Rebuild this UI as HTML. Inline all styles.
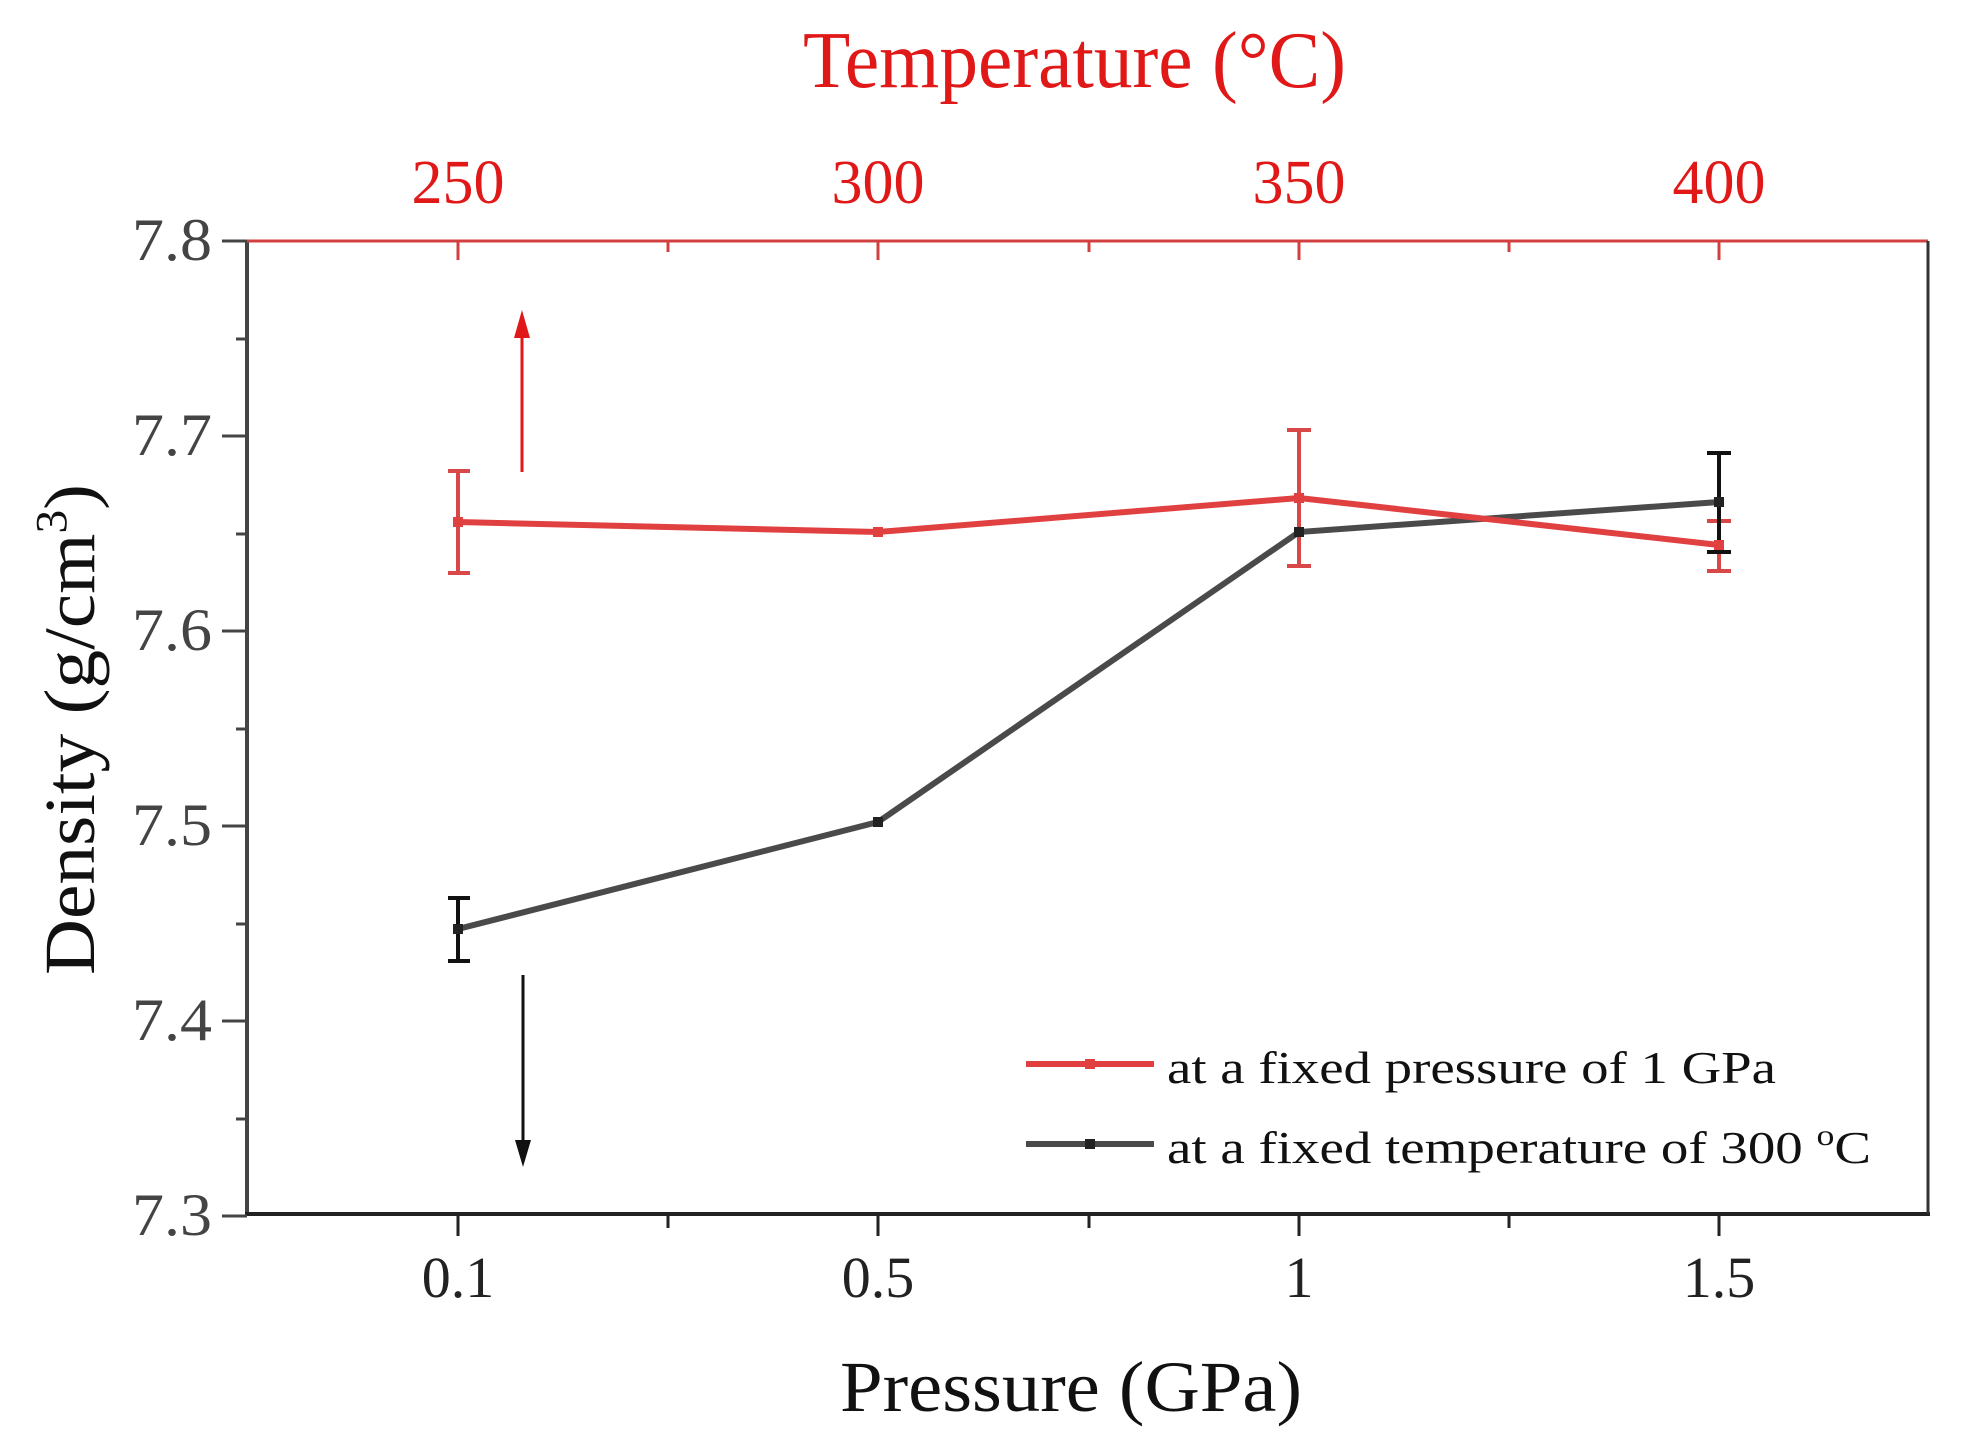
<!DOCTYPE html>
<html><head><meta charset="utf-8"><style>html,body{margin:0;padding:0;background:#fff}svg{display:block}</style></head>
<body>
<svg width="1963" height="1444" viewBox="0 0 1963 1444" xmlns="http://www.w3.org/2000/svg" font-family="Liberation Serif, serif">
<rect width="1963" height="1444" fill="#fff"/>
<line x1="247" y1="241" x2="247" y2="1216" stroke="#444" stroke-width="4"/>
<line x1="245" y1="1214" x2="1930" y2="1214" stroke="#222" stroke-width="4"/>
<line x1="247" y1="241" x2="1928" y2="241" stroke="#d04040" stroke-width="3"/>
<line x1="1928" y1="241" x2="1928" y2="1214" stroke="#333" stroke-width="3"/>
<g stroke="#444" stroke-width="3">
<line x1="222" y1="241" x2="247" y2="241"/><line x1="236" y1="339" x2="247" y2="339"/>
<line x1="222" y1="436" x2="247" y2="436"/><line x1="236" y1="534" x2="247" y2="534"/>
<line x1="222" y1="631" x2="247" y2="631"/><line x1="236" y1="729" x2="247" y2="729"/>
<line x1="222" y1="826" x2="247" y2="826"/><line x1="236" y1="924" x2="247" y2="924"/>
<line x1="222" y1="1021" x2="247" y2="1021"/><line x1="236" y1="1119" x2="247" y2="1119"/>
<line x1="222" y1="1216" x2="247" y2="1216"/>
</g>
<g font-size="60" fill="#444" text-anchor="end">
<text x="212" y="260" textLength="80" lengthAdjust="spacingAndGlyphs">7.8</text><text x="212" y="455" textLength="80" lengthAdjust="spacingAndGlyphs">7.7</text><text x="212" y="650" textLength="80" lengthAdjust="spacingAndGlyphs">7.6</text>
<text x="212" y="845" textLength="80" lengthAdjust="spacingAndGlyphs">7.5</text><text x="212" y="1040" textLength="80" lengthAdjust="spacingAndGlyphs">7.4</text><text x="212" y="1235" textLength="80" lengthAdjust="spacingAndGlyphs">7.3</text>
</g>
<g stroke="#222" stroke-width="3">
<line x1="458" y1="1214" x2="458" y2="1236"/><line x1="878" y1="1214" x2="878" y2="1236"/>
<line x1="1299" y1="1214" x2="1299" y2="1236"/><line x1="1719" y1="1214" x2="1719" y2="1236"/>
<line x1="668" y1="1214" x2="668" y2="1228"/><line x1="1089" y1="1214" x2="1089" y2="1228"/>
<line x1="1509" y1="1214" x2="1509" y2="1228"/>
</g>
<g font-size="58" fill="#222" text-anchor="middle">
<text x="458" y="1297">0.1</text><text x="878" y="1297">0.5</text><text x="1299" y="1297">1</text><text x="1719" y="1297">1.5</text>
</g>
<g stroke="#d04040" stroke-width="3">
<line x1="458" y1="241" x2="458" y2="260"/><line x1="878" y1="241" x2="878" y2="260"/>
<line x1="1299" y1="241" x2="1299" y2="260"/><line x1="1719" y1="241" x2="1719" y2="260"/>
<line x1="668" y1="241" x2="668" y2="252"/><line x1="1089" y1="241" x2="1089" y2="252"/>
<line x1="1509" y1="241" x2="1509" y2="252"/>
</g>
<g font-size="62" fill="#e01818" text-anchor="middle">
<text x="458" y="203">250</text><text x="878" y="203">300</text><text x="1299" y="203">350</text><text x="1719" y="203">400</text>
</g>
<text x="803" y="87" font-size="80" fill="#e01818" textLength="543" lengthAdjust="spacingAndGlyphs">Temperature (°C)</text>
<text x="840" y="1411" font-size="72" fill="#111" textLength="462" lengthAdjust="spacingAndGlyphs">Pressure (GPa)</text>
<text transform="translate(94,975) rotate(-90)" font-size="72" fill="#111" textLength="491" lengthAdjust="spacingAndGlyphs">Density (g/cm<tspan font-size="44" dy="-28">3</tspan><tspan dy="28">)</tspan></text>
<g stroke="#d84848" stroke-width="4" fill="none">
<path d="M458 471V573M448 471h22M448 573h22"/>
<path d="M1299 430V566M1287 430h24M1287 566h24"/>
<path d="M1719 521V571M1707 521h24M1707 571h24"/>
</g>
<g stroke="#111" stroke-width="4" fill="none">
<path d="M458 898V961M448 898h22M448 961h22"/>
<path d="M1719 453V552M1707 453h24M1707 552h24"/>
</g>
<polyline points="458,929 878,822 1299,532 1719,502" fill="none" stroke="#4a4a4a" stroke-width="6"/>
<polyline points="458,522 878,532 1299,498 1719,545" fill="none" stroke="#e04040" stroke-width="6"/>
<g fill="#e04040"><rect x="453" y="517" width="10" height="10"/><rect x="873" y="527" width="10" height="10"/><rect x="1294" y="493" width="10" height="10"/><rect x="1714" y="540" width="10" height="10"/></g>
<g fill="#222"><rect x="453" y="924" width="10" height="10"/><rect x="873" y="817" width="10" height="10"/><rect x="1294" y="527" width="10" height="10"/><rect x="1714" y="497" width="10" height="10"/></g>
<line x1="522" y1="472" x2="522" y2="330" stroke="#e01818" stroke-width="3"/>
<polygon points="522,310 514,338 530,338" fill="#e01818"/>
<line x1="523" y1="975" x2="523" y2="1145" stroke="#111" stroke-width="3"/>
<polygon points="523,1167 515,1140 531,1140" fill="#111"/>
<line x1="1026" y1="1064" x2="1154" y2="1064" stroke="#e04040" stroke-width="6"/>
<rect x="1085" y="1059" width="10" height="10" fill="#e04040"/>
<line x1="1026" y1="1144" x2="1154" y2="1144" stroke="#4a4a4a" stroke-width="6"/>
<rect x="1085" y="1139" width="10" height="10" fill="#222"/>
<text x="1167" y="1083" font-size="46" fill="#111" textLength="609" lengthAdjust="spacingAndGlyphs">at a fixed pressure of 1 GPa</text>
<text x="1167" y="1163" font-size="46" fill="#111" textLength="704" lengthAdjust="spacingAndGlyphs">at a fixed temperature of 300 <tspan font-size="30" dy="-18">o</tspan><tspan dy="18">C</tspan></text>
</svg>
</body></html>
